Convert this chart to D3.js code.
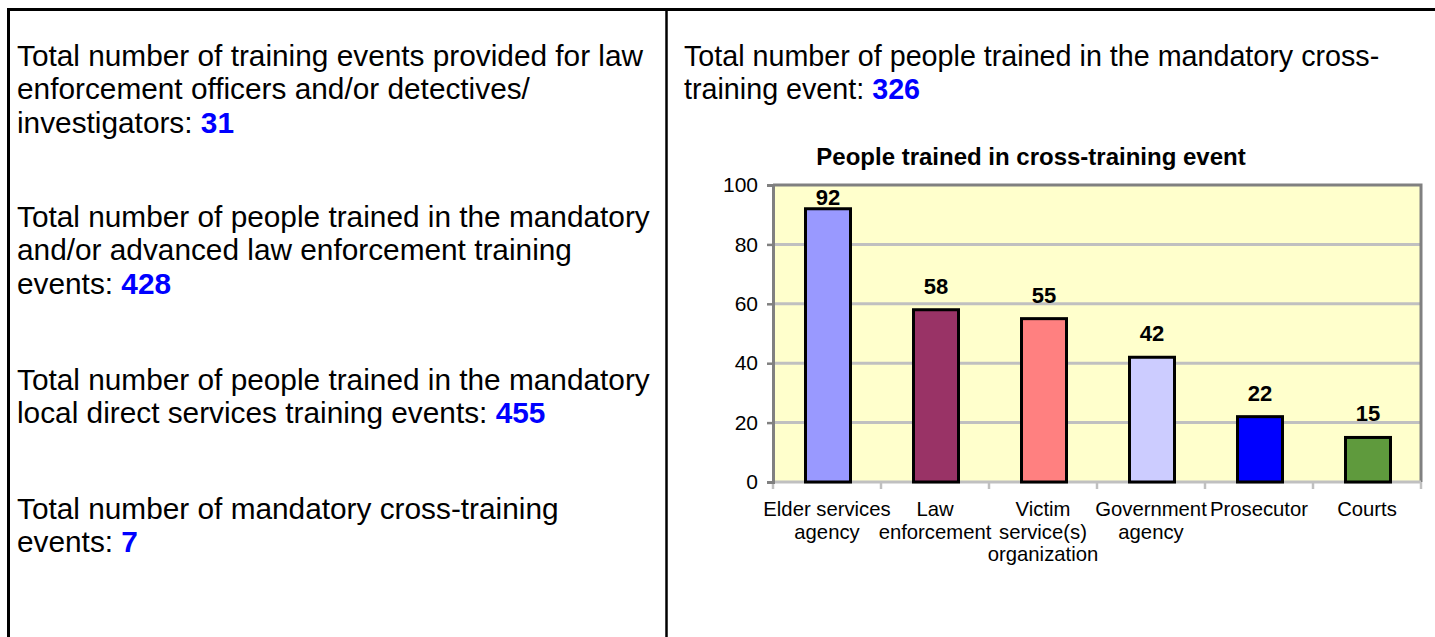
<!DOCTYPE html>
<html><head><meta charset="utf-8">
<script src="https://cdn.jsdelivr.net/npm/d3@7"></script>
<style>
body{margin:0;background:#fff;}
svg text{font-family:"Liberation Sans",Arial,Helvetica,sans-serif;}
</style>
</head><body>
<svg id="chart" width="1435" height="637"></svg>
<script>
// ---- data ----
const categories = ["Elder services agency","Law enforcement","Victim service(s) organization","Government agency","Prosecutor","Courts"];
const categoryLines = [["Elder services","agency"],["Law","enforcement"],["Victim","service(s)","organization"],["Government","agency"],["Prosecutor"],["Courts"]];
const values = [92,58,55,42,22,15];
const barColors = ["#9999FF","#993366","#FF8080","#CCCCFF","#0000FF","#5F9A3D"];
const yTickValues = [0,20,40,60,80,100];
const chartTitle = "People trained in cross-training event";

const leftStatLines = [
  ["Total number of training events provided for law","enforcement officers and/or detectives/","investigators: "],
  ["Total number of people trained in the mandatory","and/or advanced law enforcement training","events: "],
  ["Total number of people trained in the mandatory","local direct services training events: "],
  ["Total number of mandatory cross-training","events: "]
];
const leftStatValues = ["31","428","455","7"];
const rightStatLines = ["Total number of people trained in the mandatory cross-","training event: "];
const rightStatValue = "326";

// ---- drawing ----
const svg = d3.select("#chart");

// panel borders
svg.append("line").attr("x1",7).attr("x2",1435).attr("y1",9.5).attr("y2",9.5).attr("stroke","#000").attr("stroke-width",3);
svg.append("line").attr("x1",8.5).attr("x2",8.5).attr("y1",8).attr("y2",637).attr("stroke","#000").attr("stroke-width",3);
svg.append("line").attr("x1",666.5).attr("x2",666.5).attr("y1",8).attr("y2",637).attr("stroke","#000").attr("stroke-width",2.5);

const lineGap = 33.5;
const paraTops = [65.5, 226.5, 389.5, 518.5];

function statBlock(x, y0, lines, val, size){
  const t = svg.append("text").attr("x",x).attr("y",y0).attr("font-size",size).attr("fill","#000");
  lines.forEach((ln,i)=>{
    t.append("tspan").attr("x",x).attr("y",y0+i*lineGap).text(ln);
    if(i===lines.length-1){
      t.append("tspan").attr("font-weight","bold").attr("fill","#0000FF").text(val);
    }
  });
}
leftStatLines.forEach((lines,i)=>statBlock(17, paraTops[i], lines, leftStatValues[i], 29.8));
statBlock(684, paraTops[0], rightStatLines, rightStatValue, 28.7);

// chart
const px0 = 773, px1 = 1421, pyTop = 185, pyBot = 482;
const y = d3.scaleLinear().domain([0,100]).range([pyBot, pyTop]);
const x = d3.scaleBand().domain(categories).range([px0, px1]);
const barW = 45;

const g = svg.append("g");
g.append("rect").attr("x",px0).attr("y",pyTop).attr("width",px1-px0).attr("height",pyBot-pyTop).attr("fill","#FFFFCC");

// gridlines
g.selectAll("line.grid").data(yTickValues.filter(v=>v>0 && v<100)).enter().append("line")
  .attr("x1",px0).attr("x2",px1).attr("y1",d=>y(d)).attr("y2",d=>y(d))
  .attr("stroke","#C0C0C0").attr("stroke-width",3);

// plot border top & right
g.append("path").attr("d",`M${px0},${pyTop}H${px1}V${pyBot}`).attr("fill","none").attr("stroke","#808080").attr("stroke-width",3);

// x axis (bottom) with ticks at category boundaries
const bounds = categories.map(c=>x(c)).concat([px1]);
g.append("line").attr("x1",px0).attr("x2",px1).attr("y1",pyBot).attr("y2",pyBot).attr("stroke","#C0C0C0").attr("stroke-width",3);
g.selectAll("line.xt").data(bounds).enter().append("line")
  .attr("x1",d=>d).attr("x2",d=>d).attr("y1",pyBot).attr("y2",pyBot+7)
  .attr("stroke","#C0C0C0").attr("stroke-width",2.5);

// y axis
const yAxis = d3.axisLeft(y).tickValues(yTickValues).tickSize(6).tickPadding(9);
const ya = g.append("g").attr("transform",`translate(${px0},0)`).call(yAxis);
ya.select(".domain").attr("stroke","#808080").attr("stroke-width",3);
ya.selectAll(".tick line").attr("stroke","#808080").attr("stroke-width",2.5);
ya.selectAll(".tick text").attr("font-size",21).attr("fill","#000").attr("font-family","Liberation Sans, Arial, sans-serif");

// bars
g.selectAll("rect.bar").data(values).enter().append("rect")
  .attr("x",(d,i)=>x(categories[i])+x.bandwidth()/2-barW/2+1)
  .attr("y",d=>y(d)).attr("width",barW).attr("height",d=>pyBot-y(d))
  .attr("fill",(d,i)=>barColors[i]).attr("stroke","#000").attr("stroke-width",3);

// value labels
g.selectAll("text.val").data(values).enter().append("text")
  .attr("x",(d,i)=>x(categories[i])+x.bandwidth()/2+1)
  .attr("y",d=>Math.max(y(d)-16, pyTop+20))
  .attr("text-anchor","middle").attr("font-size",22).attr("font-weight","bold").text(d=>d);

// x labels
categoryLines.forEach((lines,i)=>{
  const t = g.append("text").attr("text-anchor","middle").attr("font-size",20.3).attr("fill","#000");
  lines.forEach((ln,j)=>{
    t.append("tspan").attr("x",x(categories[i])+x.bandwidth()/2).attr("y",516+j*22.5).text(ln);
  });
});

// title
svg.append("text").attr("x",1031).attr("y",165).attr("text-anchor","middle")
  .attr("font-size",24).attr("font-weight","bold").text(chartTitle);
</script>
</body></html>
